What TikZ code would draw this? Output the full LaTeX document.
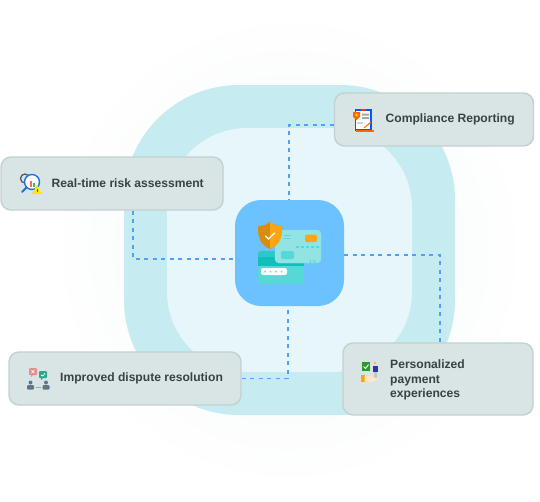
\documentclass[tikz,border=0pt]{standalone}
\usepackage{fontspec}
\setmainfont{Liberation Sans}
\usetikzlibrary{calc}
\definecolor{boxfill}{HTML}{D8E5E4}
\definecolor{boxline}{HTML}{C2D2D0}
\definecolor{outerc}{HTML}{C6EBF1}
\definecolor{innerc}{HTML}{E6F6FB}
\definecolor{tilec}{HTML}{6CC1FF}
\definecolor{dashc}{HTML}{4FA0F8}
\definecolor{textc}{HTML}{3A4145}
\definecolor{cardb}{HTML}{92E3E3}
\definecolor{cardf}{HTML}{55D8D6}
\definecolor{cardd}{HTML}{10BFBC}
\definecolor{cardt}{HTML}{2CC8C6}
\definecolor{amber}{HTML}{FFA50F}
\definecolor{haloc}{HTML}{F2F6F7}
\definecolor{slatec}{HTML}{5F7396}
\definecolor{softred}{HTML}{E98C90}
\definecolor{softteal}{HTML}{2BA890}
\tikzset{
  card/.style={draw=boxline,line width=1.4pt,fill=boxfill,rounded corners=10pt,minimum height=53pt,inner sep=0pt},
  lbl/.style={font=\bfseries\fontsize{12.1pt}{14.6pt}\selectfont,text=textc,align=left,anchor=west,inner sep=0pt},
  link/.style={draw=dashc,line width=1.6pt,dash pattern=on 4pt off 4.5pt},
}
\begin{document}
\begin{tikzpicture}[x=1pt,y=-1pt]
\useasboundingbox (0,0) rectangle (540,501);
\fill[white] (0,0) rectangle (540,501);
% faint halo
\shade[inner color=haloc,outer color=white] (289,250) circle (240);
% nested squircles
\fill[outerc,rounded corners=115pt] (124,85) rectangle (455,415);
\fill[innerc,rounded corners=80pt] (167,128) rectangle (412,372);
% nodes
\node[fill=tilec,rounded corners=26pt,minimum width=109pt,minimum height=106pt,inner sep=0pt] (hub) at (289.5,253) {};
\node[card,minimum width=199pt,minimum height=53pt] (comp) at (434,119.5) {};
\node[card,minimum width=222pt,minimum height=53pt] (risk) at (112,183.5) {};
\node[card,minimum width=232pt,minimum height=53pt] (disp) at (125,378.5) {};
\node[card,minimum width=190pt,minimum height=72pt] (pers) at (438,379) {};
% connectors
\draw[link] ([yshift=-5.5pt]comp.west) -| ([xshift=-.5pt]hub.north);
\draw[link] ([xshift=21pt]risk.south) |- ([yshift=-6pt]hub.west);
\draw[link] (disp.east) -| ([xshift=-1.5pt]hub.south);
\draw[link] ([yshift=-2pt]hub.east) -| ([xshift=2pt]pers.north);
% labels
\node[lbl] (t1) at (385.5,119.5) {Compliance Reporting};
\node[lbl] (t2) at (51.5,183.5) {Real-time risk assessment};
\node[lbl] (t3) at (60,378.5) {Improved dispute resolution};
\node[lbl] (t4) at (390,380) {Personalized\\payment\\experiences};
% central card illustration
\fill[cardf,rounded corners=3pt] (258,251) rectangle (304,284);
\fill[cardt,rounded corners=3pt] (258,251) rectangle (304,259);
\fill[cardd] (258,257) rectangle (304,266);
\fill[white!90!cardb,rounded corners=2pt] (261,268) rectangle (287,275);
\foreach \x in {265,270.5,276,281.5}\fill[cardb!80!gray] (\x,271.5) circle (1);
\fill[cardb,draw=cardf!70,line width=.4pt,rounded corners=4pt] (275,230) rectangle (321,263);
\fill[amber,rounded corners=1.5pt] (305,234.5) rectangle (317,242);
\fill[cardf,rounded corners=2pt] (281,251) rectangle (294,259);
\foreach \x in {296,301,306,311,316}\fill[cardf] (\x,246) rectangle +(3,1.6);
\draw[cardf,line width=.8pt] (284,235)--(291,235) (284,238)--(290,238);
\draw[cardf,line width=1pt] (310,260) arc (180:90:6) (313.5,260) arc (180:90:2.5);
\fill[amber!85!black] (270,222) .. controls (274,225.5) and (279,226) .. (282,226) .. controls (282.5,238) and (279,245) .. (270,249) .. controls (261,245) and (257.5,238) .. (258,226) .. controls (261,226) and (266,225.5) .. (270,222) -- cycle;
\fill[amber] (270,222) .. controls (274,225.5) and (279,226) .. (282,226) .. controls (282.5,238) and (279,245) .. (270,249) -- cycle;
\draw[white,line width=1.3pt,line cap=round] (265.5,236) -- (268.5,239) -- (274.5,233);
% icon: compliance
\fill[white,draw=blue!65!cyan,line width=1.1pt] (355.5,110) rectangle (371,130);
\fill[gray!70] (362,113.5) rectangle (369,115.5) (362,117) rectangle (369,119);
\fill[gray!35] (357,122) rectangle (363,124);
\fill[orange!80!red] (356,129.5) rectangle (374,131.5);
\draw[orange!80!red,line width=1pt] (364,128) -- (371,122);
\fill[orange!80!red] (353,112) -- (360,112) -- (360,117) -- (356.5,120) -- (353,117) -- cycle;
\fill[yellow!80!orange] (356.5,115) circle (1.3);
\fill[red!60!orange] (361,108.5) rectangle (366,110.5);
% icon: risk
\draw[gray!70!black,line width=1.3pt] (25,178.5) circle (4.5);
\fill[white] (32,182) circle (7.5);
\draw[blue!55!cyan!80!gray,line width=1.4pt] (32,182) circle (7.5);
\draw[blue!60!cyan!70!gray,line width=2pt,line cap=round] (26.5,187.5) -- (22,192);
\fill[red!60] (30,181) rectangle (32,187);
\fill[green!50!gray] (33,183) rectangle (35,187);
\fill[yellow!90!orange] (37,185) -- (42,194) -- (32,194) -- cycle;
\fill[black!70] (36.6,188.5) rectangle (37.4,192);
% icon: dispute
\fill[softred,rounded corners=1pt] (29,368) rectangle (37,375);
\fill[softred] (31,375) -- (33,375) -- (31,377) -- cycle;
\fill[softteal,rounded corners=1pt] (39,371) rectangle (47,378);
\fill[softteal] (41,378) -- (43,378) -- (41,380) -- cycle;
\draw[white,line width=.7pt] (31.5,370) -- (34.5,373) (34.5,370) -- (31.5,373);
\draw[white,line width=.7pt] (41,375) -- (43,376) -- (45,373);
\fill[slatec] (30.5,382.5) circle (2);
\fill[slatec,rounded corners=1pt] (27,385) rectangle (34,389.5);
\fill[slatec] (46,382.5) circle (2);
\fill[slatec,rounded corners=1pt] (42.5,385) rectangle (49.5,389.5);
\draw[blue!50!cyan!60!white,line width=.6pt] (36,387) -- (41,387);
% icon: personalized
\fill[green!55!black!85!white] (361.5,362) rectangle (370,370.5);
\draw[white,line width=.9pt] (363.5,366.5) -- (365.5,368.5) -- (368.5,364.5);
\fill[orange!60!white] (375,363) circle (1.3);
\fill[blue!60!black!80!white] (372.5,366) rectangle (377.5,372);
\fill[gray!45] (373.5,372) rectangle (376.5,378);
\fill[orange!70!yellow] (361,375) rectangle (364.5,381.5);
\fill[orange!20] (364.5,376) -- (370,376) -- (379,379) -- (372,382) -- (364.5,381) -- cycle;
\end{tikzpicture}
\end{document}
